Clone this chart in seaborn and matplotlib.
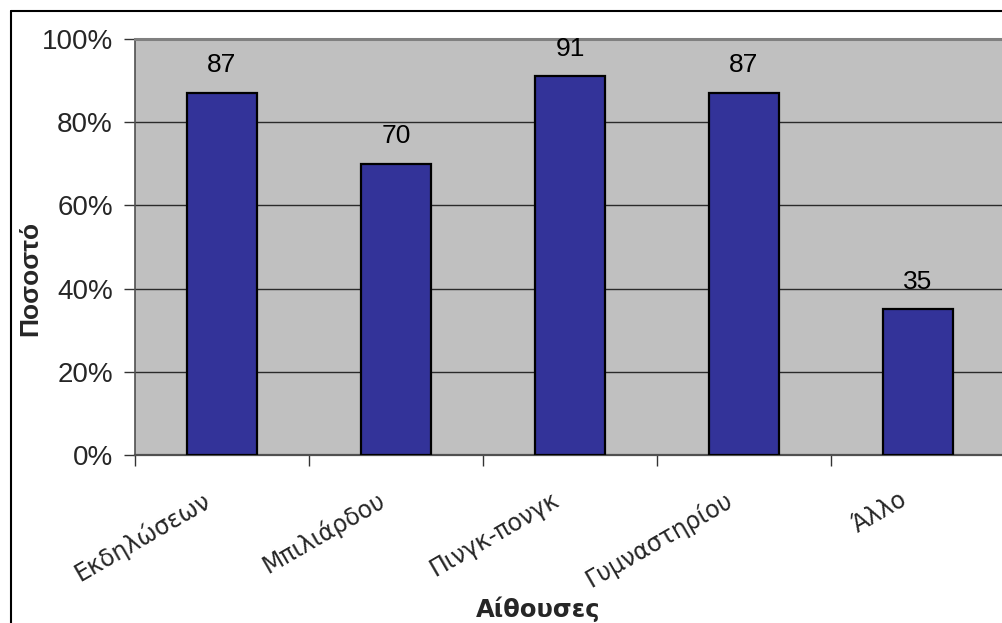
import matplotlib
matplotlib.use("Agg")
import matplotlib.pyplot as plt
import matplotlib.transforms as mtransforms
from matplotlib.lines import Line2D
from matplotlib.ticker import FixedLocator, PercentFormatter
import seaborn as sns
import pandas as pd

# Survey results: share of respondents per room type
categories = ["Εκδηλώσεων", "Μπιλιάρδου", "Πινγκ-πονγκ", "Γυμναστηρίου", "Άλλο"]
values = [87, 70, 91, 87, 35]
y_ticks = [0, 20, 40, 60, 80, 100]

df = pd.DataFrame({"category": categories, "value": values})

sns.set_style("white")
plt.rcParams["font.family"] = ["Liberation Sans", "DejaVu Sans"]

W, H = 1002, 623
fig = plt.figure(figsize=(W / 100, H / 100), dpi=100)
fig.patch.set_facecolor("white")

# plot area in pixel terms
left_px, right_px, top_px, bottom_px = 135, 1002, 39, 455
ax = fig.add_axes([left_px / W, 1 - bottom_px / H,
                   (right_px - left_px) / W, (bottom_px - top_px) / H])
ax.set_facecolor("#C0C0C0")

sns.barplot(data=df, x="category", y="value", color="#333399",
            edgecolor="black", linewidth=1.6, width=0.4, saturation=1,
            ax=ax, zorder=3)

ax.set_xlim(-0.5, 4.483)
ax.set_ylim(0, 100)
ax.yaxis.set_major_locator(FixedLocator(y_ticks))
ax.yaxis.set_major_formatter(PercentFormatter(100, decimals=0))
ax.grid(axis="y", color="#2a2a2a", linewidth=1.0, zorder=1)
ax.set_axisbelow(True)

ax.spines["right"].set_visible(False)
ax.spines["top"].set_color("#808080")
ax.spines["top"].set_linewidth(2.2)
ax.spines["left"].set_color("#505050")
ax.spines["left"].set_linewidth(1.2)
ax.spines["bottom"].set_color("#505050")
ax.spines["bottom"].set_linewidth(1.6)

# value labels above each bar
for i, v in enumerate(values):
    ax.annotate(f"{v}", (i, v), xytext=(0, 20), textcoords="offset points",
                ha="center", va="center", fontsize=19, color="black",
                family="Liberation Sans")

# y axis ticks
ax.tick_params(axis="y", which="major", direction="out", length=8, width=1,
               color="#333333", labelsize=20, pad=8, left=True)

# category boundaries carry the tick marks, labels sit at bar centres
ax.xaxis.set_minor_locator(FixedLocator([-0.5, 0.5, 1.5, 2.5, 3.5, 4.5]))
ax.tick_params(axis="x", which="minor", direction="out", length=8, width=1,
               color="#333333", bottom=True)
ax.tick_params(axis="x", which="major", length=0, pad=31, labelsize=17)
ax.set_xticks(range(len(categories)))
ax.set_xticklabels(categories, rotation=30, ha="right", va="center",
                   rotation_mode="anchor", family="DejaVu Sans")
shift = mtransforms.ScaledTranslation(-13 / 100, 0, fig.dpi_scale_trans)
for lab in ax.get_xticklabels():
    lab.set_transform(lab.get_transform() + shift)

ax.set_xlabel("Αίθουσες", fontsize=17.5, fontweight="bold",
              family="DejaVu Sans")
ax.xaxis.set_label_coords((538 - left_px) / (right_px - left_px),
                          (bottom_px - 596) / (bottom_px - top_px))
ax.xaxis.label.set_va("top")

ax.set_ylabel("Ποσοστό", fontsize=19, fontweight="bold",
              family="Liberation Sans")
ax.yaxis.set_label_coords((42 - left_px) / (right_px - left_px),
                          (bottom_px - 278) / (bottom_px - top_px))
ax.yaxis.label.set_va("bottom")

# chart area border (left and top edges visible)
bx, by = 10.5 / W, 1 - 11 / H
fig.add_artist(Line2D([bx, bx], [0, by], transform=fig.transFigure,
                      color="black", linewidth=1.5))
fig.add_artist(Line2D([bx, 1], [by, by], transform=fig.transFigure,
                      color="black", linewidth=1.5))

fig.savefig("out.png", dpi=100, facecolor="white")
